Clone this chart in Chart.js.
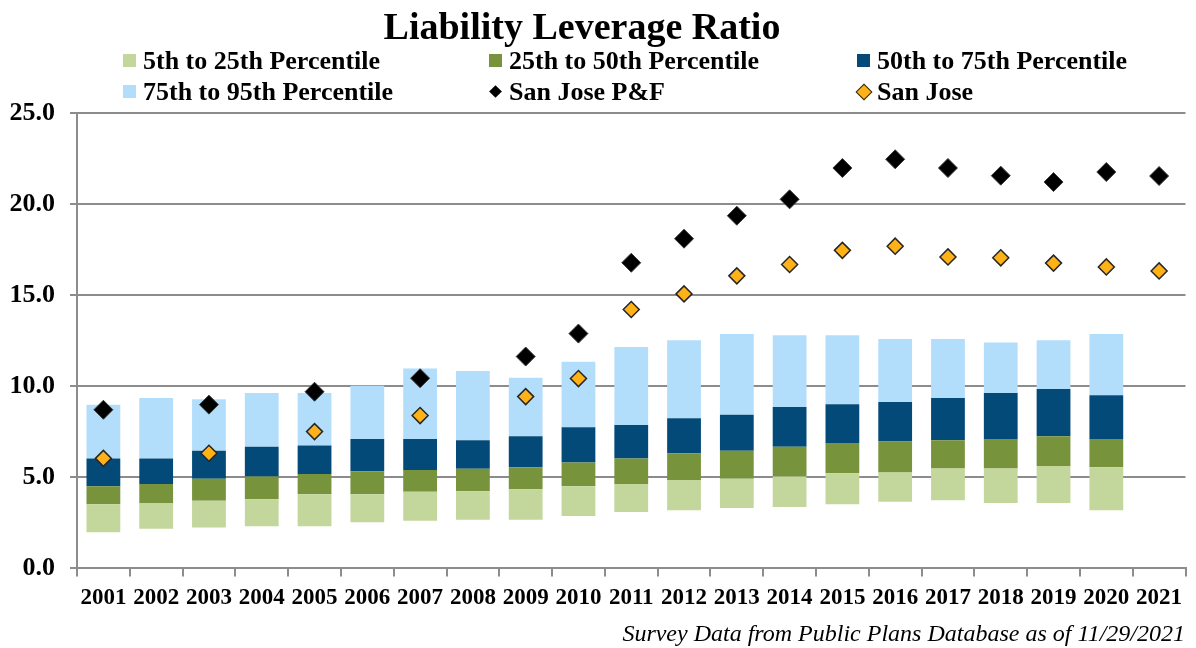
<!DOCTYPE html>
<html>
<head>
<meta charset="utf-8">
<script src="https://cdn.jsdelivr.net/npm/chart.js@4"></script>
<style>
  body { margin: 0; background: #fff; }
  #wrap { position: relative; width: 1196px; height: 648px; font-family: "Liberation Serif", "Times New Roman", serif; color: #000; }
  #c { position: absolute; left: 0; top: 0; }
  #title { position: absolute; top: 7px; left: 0; width: 1164px; text-align: center; font-weight: bold; font-size: 38px; line-height: 38px; }
  .lg { position: absolute; font-weight: bold; font-size: 26px; line-height: 30px; white-space: nowrap; }
  .mk { position: absolute; box-sizing: border-box; }
  #note { position: absolute; right: 11px; top: 619px; font-style: italic; font-size: 24px; line-height: 28px; white-space: nowrap; }
</style>
</head>
<body>
<div id="wrap">
  <canvas id="c" width="1196" height="648"></canvas>
  <div id="title">Liability Leverage Ratio</div>
  <div id="legend"></div>
  <div id="note">Survey Data from Public Plans Database as of 11/29/2021</div>
</div>
<script>
// data
var years = ["2001","2002","2003","2004","2005","2006","2007","2008","2009","2010",
  "2011","2012","2013","2014","2015","2016","2017","2018","2019","2020","2021"];
var p5  = [1.98, 2.18, 2.25, 2.32, 2.32, 2.53, 2.62, 2.67, 2.67, 2.87, 3.09, 3.19, 3.31, 3.37, 3.52, 3.66, 3.74, 3.59, 3.59, 3.19, null];
var p25 = [3.52, 3.59, 3.72, 3.79, 4.07, 4.07, 4.21, 4.23, 4.34, 4.51, 4.63, 4.85, 4.92, 5.05, 5.22, 5.27, 5.49, 5.49, 5.62, 5.55, null];
var p50 = [4.51, 4.63, 4.92, 5.05, 5.18, 5.33, 5.40, 5.47, 5.55, 5.82, 6.04, 6.32, 6.46, 6.68, 6.88, 6.96, 7.03, 7.10, 7.25, 7.10, null];
var p75 = [6.04, 6.04, 6.46, 6.68, 6.74, 7.10, 7.10, 7.03, 7.25, 7.75, 7.87, 8.24, 8.44, 8.86, 9.01, 9.14, 9.36, 9.63, 9.85, 9.51, null];
var p95 = [8.99, 9.36, 9.28, 9.63, 9.63, 10.03, 10.97, 10.84, 10.47, 11.34, 12.16, 12.53, 12.87, 12.80, 12.80, 12.60, 12.60, 12.40, 12.53, 12.87, null];
var sanJosePF = [8.71, null, 8.99, null, 9.70, null, 10.44, null, 11.63, 12.89, 16.78, 18.10, 19.36, 20.26, 21.98, 22.46, 21.98, 21.56, 21.21, 21.76, 21.54];
var sanJose   = [6.04, null, 6.32, null, 7.51, null, 8.39, null, 9.43, 10.42, 14.21, 15.07, 16.06, 16.68, 17.46, 17.69, 17.10, 17.05, 16.76, 16.55, 16.33];

var yTicks = [0, 5, 10, 15, 20, 25];

function band(lo, hi) {
  return lo.map(function (v, i) { return v == null ? null : [v, hi[i]]; });
}

var FONT = "'Liberation Serif', 'Times New Roman', serif";
var GRID = "#8c8c8c";

function barSet(label, data, color) {
  return { type: "bar", label: label, data: data, backgroundColor: color, grouped: false,
    barPercentage: 0.64, categoryPercentage: 1, order: 1 };
}

var datasets = [
  { type: "line", label: "San Jose P&F", data: sanJosePF, showLine: false, pointStyle: "rectRot",
    pointRadius: 9.5, pointBackgroundColor: "#000", pointBorderColor: "#3a3a3a", pointBorderWidth: 1, order: 0 },
  { type: "line", label: "San Jose", data: sanJose, showLine: false, pointStyle: "rectRot",
    pointRadius: 8, pointBackgroundColor: "#ffb217", pointBorderColor: "#262626", pointBorderWidth: 1.5, order: 0 },
  barSet("5th to 25th Percentile", band(p5, p25), "#c3d69b"),
  barSet("25th to 50th Percentile", band(p25, p50), "#77933c"),
  barSet("50th to 75th Percentile", band(p50, p75), "#034a78"),
  barSet("75th to 95th Percentile", band(p75, p95), "#b3defb")
];

var chart = new Chart(document.getElementById("c").getContext("2d"), {
  data: { labels: years, datasets: datasets },
  options: {
    responsive: false,
    animation: false,
    layout: { padding: { top: 113, right: 9, bottom: 28, left: 6 } },
    plugins: { legend: { display: false }, title: { display: false }, tooltip: { enabled: false } },
    scales: {
      x: {
        offset: true,
        grid: { drawOnChartArea: false, drawTicks: true, tickLength: 8, color: GRID, lineWidth: 2, offset: true },
        border: { color: GRID, width: 2 },
        ticks: { font: { family: FONT, size: 23, weight: "bold" }, color: "#000", padding: 8, maxRotation: 0, autoSkip: false }
      },
      y: {
        min: 0, max: 25,
        afterBuildTicks: function (ax) { ax.ticks = yTicks.map(function (v) { return { value: v }; }); },
        afterFit: function (ax) { ax.width = 71; },
        grid: { color: GRID, lineWidth: 2, tickLength: 7 },
        border: { color: GRID, width: 2 },
        ticks: { font: { family: FONT, size: 26, weight: "bold" }, color: "#000", padding: 15,
          callback: function (v) { return Number(v).toFixed(1); } }
      }
    }
  }
});

// legend laid out in three columns like the original
var legendPos = [
  [143, 46], [509, 46], [877, 46],
  [143, 77], [509, 77], [877, 77]
];
var legendOrder = [2, 3, 4, 5, 0, 1];
var lg = document.getElementById("legend");
legendOrder.forEach(function (di, k) {
  var ds = datasets[di];
  var x = legendPos[k][0], y = legendPos[k][1];
  var mk = document.createElement("div");
  mk.className = "mk";
  if (ds.type === "bar") {
    mk.style.cssText = "left:" + (x - 20) + "px;top:" + (y + 8) + "px;width:13px;height:13px;background:" + ds.backgroundColor;
  } else if (di === 0) {
    mk.style.cssText = "left:" + (x - 18) + "px;top:" + (y + 10) + "px;width:9px;height:9px;background:#000;transform:rotate(45deg)";
  } else {
    mk.style.cssText = "left:" + (x - 19) + "px;top:" + (y + 9) + "px;width:12px;height:12px;background:#ffb217;border:1.5px solid #262626;transform:rotate(45deg)";
  }
  lg.appendChild(mk);
  var t = document.createElement("div");
  t.className = "lg";
  t.style.left = x + "px";
  t.style.top = y + "px";
  t.textContent = ds.label;
  lg.appendChild(t);
});
</script>
</body>
</html>
